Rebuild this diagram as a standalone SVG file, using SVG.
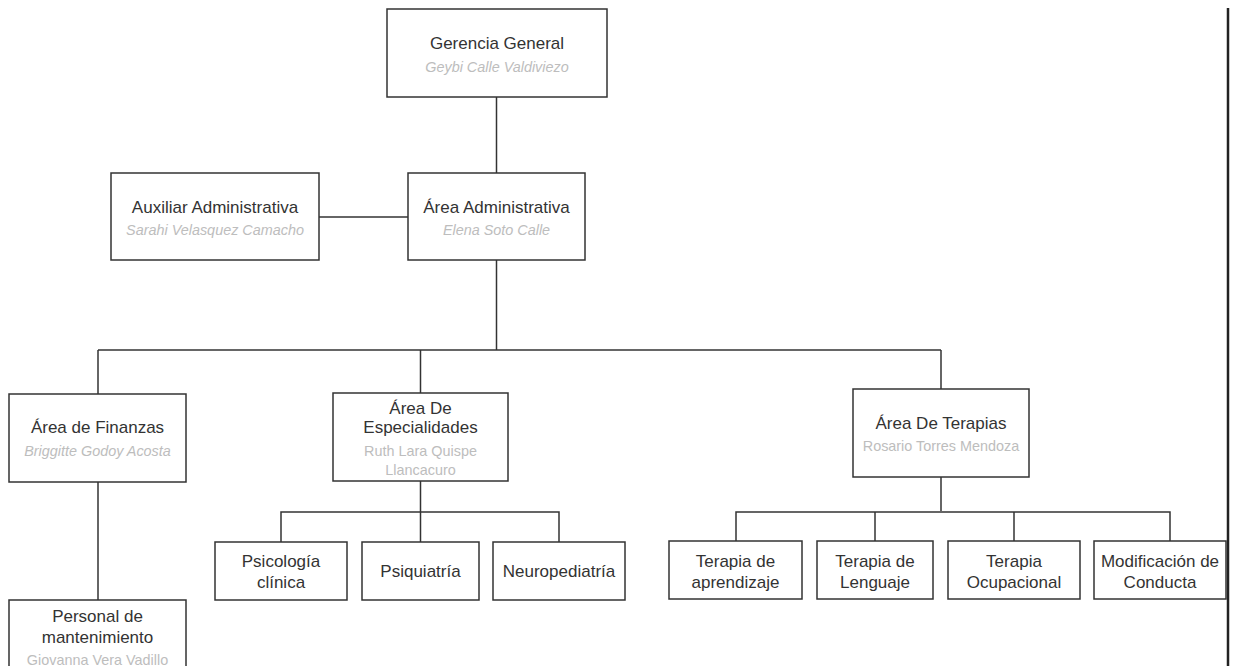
<svg xmlns="http://www.w3.org/2000/svg" width="1238" height="666" viewBox="0 0 1238 666">
<style>
.box{fill:#ffffff;stroke:#333333;stroke-width:1.5}
.t{font-family:"Liberation Sans",Arial,sans-serif;font-size:17px;fill:#333333;text-anchor:middle}
.n{font-family:"Liberation Sans",Arial,sans-serif;font-size:14.4px;fill:#bdbdbd;text-anchor:middle}
.i{font-style:italic}
.c{fill:none;stroke:#333333;stroke-width:1.5}
</style>
<rect x="0" y="0" width="1238" height="666" fill="#ffffff"/>
<g id="connectors" class="c">
<path d="M496.5 97V173"/>
<path d="M319 217H408"/>
<path d="M496.5 260V350"/>
<path d="M98 350H941"/>
<path d="M98 350V394"/>
<path d="M420.5 350V393"/>
<path d="M941 350V389"/>
<path d="M98 482V600"/>
<path d="M420.5 481V542"/>
<path d="M281 542V512H559V542"/>
<path d="M941 477V511"/>
<path d="M736 541V512H1170V541"/>
<path d="M875 512V541"/>
<path d="M1014 512V541"/>
</g>
<g id="border"><path d="M1228 8V666" stroke="#222222" stroke-width="2.5" fill="none"/></g>
<g id="gerencia">
<rect class="box" x="387" y="9" width="220" height="88"/>
<text class="t" x="497" y="49">Gerencia General</text>
<text class="n i" x="497" y="72">Geybi Calle Valdiviezo</text>
</g>
<g id="auxiliar">
<rect class="box" x="111" y="173" width="208" height="87"/>
<text class="t" x="215" y="213">Auxiliar Administrativa</text>
<text class="n i" x="215" y="235">Sarahi Velasquez Camacho</text>
</g>
<g id="administrativa">
<rect class="box" x="408" y="173" width="177" height="87"/>
<text class="t" x="496.5" y="213">Área Administrativa</text>
<text class="n i" x="496.5" y="235">Elena Soto Calle</text>
</g>
<g id="finanzas">
<rect class="box" x="9" y="394" width="177" height="88"/>
<text class="t" x="97.5" y="433">Área de Finanzas</text>
<text class="n i" x="97.5" y="456">Briggitte Godoy Acosta</text>
</g>
<g id="especialidades">
<rect class="box" x="333" y="393" width="175" height="88"/>
<text class="t" x="420.5" y="414">Área De</text>
<text class="t" x="420.5" y="433">Especialidades</text>
<text class="n" x="420.5" y="456">Ruth Lara Quispe</text>
<text class="n" x="420.5" y="475">Llancacuro</text>
</g>
<g id="terapias">
<rect class="box" x="853" y="389" width="176" height="88"/>
<text class="t" x="941" y="429">Área De Terapias</text>
<text class="n" x="941" y="451">Rosario Torres Mendoza</text>
</g>
<g id="mantenimiento">
<rect class="box" x="9" y="600" width="177" height="80"/>
<text class="t" x="97.5" y="622">Personal de</text>
<text class="t" x="97.5" y="643">mantenimiento</text>
<text class="n" x="97.5" y="665">Giovanna Vera Vadillo</text>
</g>
<g id="psicologia">
<rect class="box" x="215" y="542" width="132" height="58"/>
<text class="t" x="281" y="567">Psicología</text>
<text class="t" x="281" y="588">clínica</text>
</g>
<g id="psiquiatria">
<rect class="box" x="362" y="542" width="117" height="58"/>
<text class="t" x="420.5" y="577">Psiquiatría</text>
</g>
<g id="neuropediatria">
<rect class="box" x="493" y="542" width="132" height="58"/>
<text class="t" x="559" y="577">Neuropediatría</text>
</g>
<g id="aprendizaje">
<rect class="box" x="669" y="541" width="133" height="58"/>
<text class="t" x="735.5" y="567">Terapia de</text>
<text class="t" x="735.5" y="588">aprendizaje</text>
</g>
<g id="lenguaje">
<rect class="box" x="817" y="541" width="116" height="58"/>
<text class="t" x="875" y="567">Terapia de</text>
<text class="t" x="875" y="588">Lenguaje</text>
</g>
<g id="ocupacional">
<rect class="box" x="948" y="541" width="132" height="58"/>
<text class="t" x="1014" y="567">Terapia</text>
<text class="t" x="1014" y="588">Ocupacional</text>
</g>
<g id="conducta">
<rect class="box" x="1094" y="541" width="132" height="58"/>
<text class="t" x="1160" y="567">Modificación de</text>
<text class="t" x="1160" y="588">Conducta</text>
</g>
</svg>
